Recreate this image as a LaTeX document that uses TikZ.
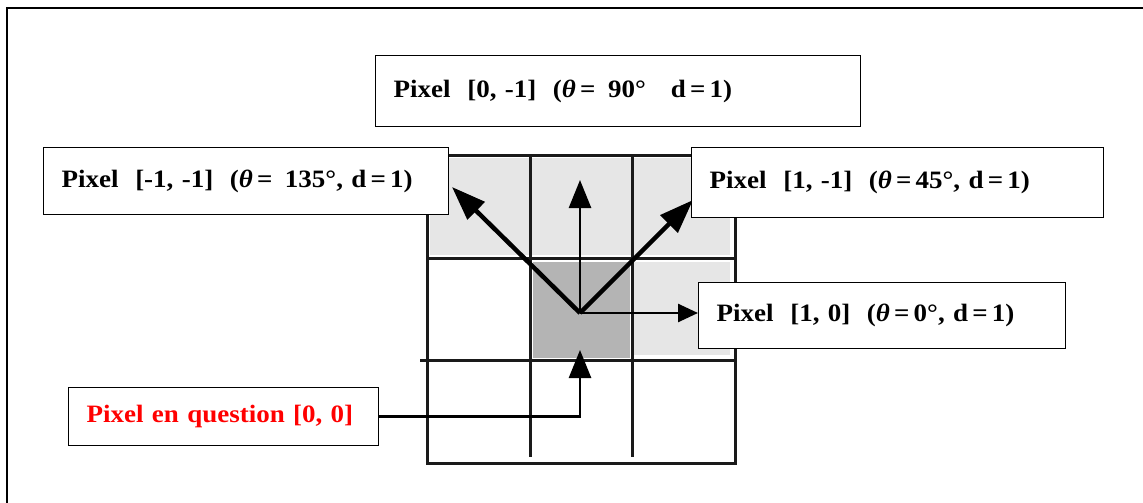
\documentclass[tikz,border=0pt]{standalone}
\usepackage{fontspec}
\setmainfont{Liberation Serif}[FakeStretch=1.08]
\usetikzlibrary{arrows.meta}
\definecolor{lightcell}{HTML}{E6E6E6}
\definecolor{darkcell}{HTML}{B4B4B4}
\definecolor{gridc}{HTML}{1A1A1A}
\newcommand{\eqs}{\,=\,}
\begin{document}
\begin{tikzpicture}[x=1pt,y=-1pt,
  gridline/.style={draw=gridc,line width=3pt},
  lbox/.style={draw=black,line width=1.2pt,fill=white,anchor=north west,inner xsep=18pt,inner ysep=0pt,
    align=left,font=\fontsize{25}{29}\selectfont\bfseries},
  thinarrow/.style={draw=black,line width=2.6pt,-{Triangle[length=28pt,width=22pt]}},
  thickarrow/.style={draw=black,line width=4.5pt,-{Triangle[length=34pt,width=24pt]}},
  rarrow/.style={draw=black,line width=2.6pt,-{Triangle[length=20pt,width=18pt]}}]
\useasboundingbox (0,0) rectangle (1143,503);
\fill[white] (0,0) rectangle (1143,503);
% outer frame
\draw[line width=2.2pt,black] (7,503) -- (7,8) -- (1143,8);
% cell fills
\fill[lightcell] (430,158) rectangle (730,255);
\fill[lightcell] (634,262) rectangle (730,355);
\fill[darkcell] (533,262) rectangle (630,358);
% grid
\draw[gridline] (427,155) rectangle (735,463);
\draw[gridline] (530,155) -- (530,457);
\draw[gridline] (632,155) -- (632,457);
\draw[gridline] (427,258) -- (735,258);
\draw[gridline] (420,360) -- (735,360);
% centre and tips
\coordinate (c) at (580,313);
\coordinate (tu) at (580,180);
\coordinate (tl) at (452,187);
\coordinate (tr) at (693,200);
\coordinate (tb) at (580,350);
% boxes
\node[lbox,text width=449pt,minimum height=71pt] (top) at (375,55)
  {Pixel\ \ [0, -1]\ \ (\textit{θ}\eqs\ 90°\ \ \ d\eqs1)};
\draw[thinarrow] (c) -- (tu);
\draw[thickarrow] (c) -- (tl);
\draw[thickarrow] (c) -- (tr);
\node[lbox,text width=369pt,minimum height=67pt] (left) at (43,147)
  {Pixel\ \ [-1, -1]\ \ (\textit{θ}\eqs\ 135°, d\eqs1)};
\node[lbox,text width=376pt,minimum height=70pt] (right) at (691,147)
  {Pixel\ \ [1, -1]\ \ (\textit{θ}\eqs45°, d\eqs1)};
\node[lbox,text width=331pt,minimum height=66pt] (mid) at (698,282)
  {Pixel\ \ [1, 0]\ \ (\textit{θ}\eqs0°, d\eqs1)};
\draw[rarrow] (c) -- (mid.west |- c);
\node[lbox,text width=274pt,minimum height=58pt,text=red] (red) at (68,387)
  {Pixel en question [0, 0]};
\draw[thinarrow] (red.east) -| (tb);
\end{tikzpicture}
\end{document}
